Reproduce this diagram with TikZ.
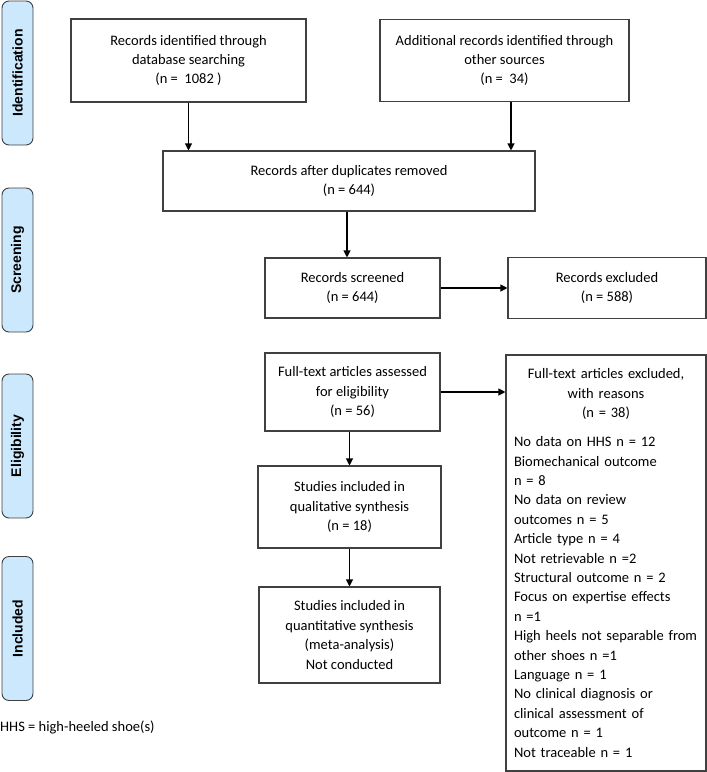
\documentclass[tikz,border=0pt]{standalone}
\usepackage{fontspec}
\usepackage{graphicx}
\setmainfont{Carlito}
\newfontfamily\stagefamily{Liberation Sans}
\usetikzlibrary{shapes, arrows.meta, positioning}
\setlength{\parindent}{0pt}
\definecolor{stageblue}{RGB}{204,232,252}
\definecolor{boxline}{RGB}{64,64,64}
\newcommand{\boxfont}{\fontsize{14.5}{19.4}\selectfont}
\newcommand{\stagefont}{\stagefamily\bfseries\fontsize{14}{16}\selectfont}
\tikzstyle{record} = [rectangle, draw=boxline, line width=1.1pt, align=center, inner sep=2pt, font=\boxfont]
\tikzstyle{reasonbox} = [rectangle, draw=boxline, line width=1.1pt, text width=184pt, inner xsep=8pt, inner ysep=0pt, minimum height=416pt, align=left, font=\boxfont]
\tikzstyle{stage} = [rectangle, rounded corners=7pt, draw=boxline, line width=0.9pt, fill=stageblue, minimum width=31pt, minimum height=144pt, inner sep=0pt, font=\stagefont]
\tikzstyle{edge} = [line width=1.1pt, -{Triangle[length=7pt,width=7pt]}]

\begin{document}
\begin{tikzpicture}[node distance=110pt]
\useasboundingbox (0,0) rectangle (707pt,-772pt);

% stage labels
\node (ident) [stage] at (17.5pt,-73pt) {\rotatebox{90}{Identification}};
\node (screen) [stage, below of=ident, yshift=-77pt] {\rotatebox{90}{Screening}};
\node (elig) [stage, below of=screen, yshift=-76pt] {\rotatebox{90}{Eligibility}};
\node (incl) [stage, below of=elig, yshift=-72.5pt] {\rotatebox{90}{Included}};

% flow boxes
\node (db) [record, minimum width=235pt, minimum height=83pt] at (188.5pt,-60.5pt) {Records identified through\\database searching\\(n =\ \ 1082 )};
\node (other) [record, minimum width=249pt, minimum height=82pt, right of=db, xshift=206pt] {Additional records identified through\\other sources\\(n =\ \ 34)};
\node (dup) [record, minimum width=372pt, minimum height=60pt, below of=db, xshift=160.5pt, yshift=-10.5pt] {Records after duplicates removed\\(n = 644)};
\node (screened) [record, minimum width=175pt, minimum height=60pt, below of=dup, xshift=3.5pt, yshift=3pt] {Records screened\\(n = 644)};
\node (excl) [record, minimum width=198pt, minimum height=61pt, right of=screened, xshift=144.5pt] {Records excluded\\(n = 588)};
\node (full) [record, minimum width=175pt, minimum height=78pt, below of=screened, yshift=6pt] {Full-text articles assessed\\for eligibility\\(n = 56)};
\node (reasons) [reasonbox, right of=full, xshift=143.5pt, yshift=-171pt] {{\centering Full-text articles excluded,\\with reasons\\(n = 38)\par}\vspace{9.6pt}
No data on HHS n = 12\\
Biomechanical outcome\\
n = 8\\
No data on review\\
outcomes n = 5\\
Article type n = 4\\
Not retrievable n =2\\
Structural outcome n = 2\\
Focus on expertise effects\\
n =1\\
High heels not separable from\\
other shoes n =1\\
Language n = 1\\
No clinical diagnosis or\\
clinical assessment of\\
outcome n = 1\\
Not traceable n = 1};
\node (qual) [record, minimum width=183pt, minimum height=82pt, below of=full, xshift=-3pt, yshift=-5pt] {Studies included in\\qualitative synthesis\\(n = 18)};
\node (quant) [record, minimum width=181pt, minimum height=96pt, below of=qual, yshift=-18pt] {Studies included in\\quantitative synthesis\\(meta-analysis)\\Not conducted};
\node (note) [anchor=west, font=\boxfont, inner sep=0pt] at (0,-727pt) {HHS = high-heeled shoe(s)};

\draw [edge] (db) -- (db |- dup.north);
\draw [edge] ([xshift=6.5pt]other.south) -- ([xshift=6.5pt]other.south |- dup.north);
\draw [edge] ([xshift=-2pt]dup.south) -- ([xshift=-2pt]dup.south |- screened.north);
\draw [edge] (screened) -- (excl);
\draw [edge] (full) -- (full -| reasons.west);
\draw [edge] (full.south -| qual) -- (qual);
\draw [edge] (qual) -- (quant);

\end{tikzpicture}
\end{document}
